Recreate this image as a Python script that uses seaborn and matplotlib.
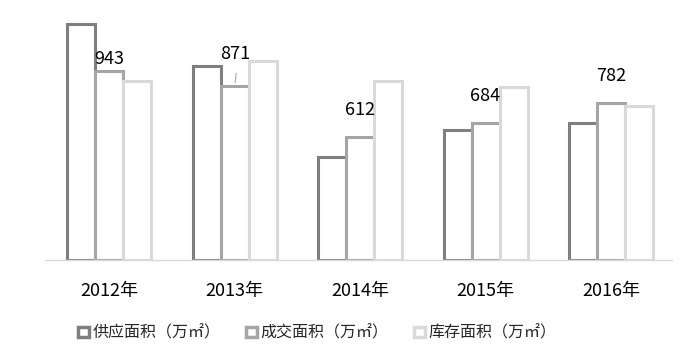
import matplotlib
matplotlib.use('Agg')
import matplotlib.pyplot as plt
from matplotlib.patches import Patch
import numpy as np
import pandas as pd
import seaborn as sns

years = ['2012年', '2013年', '2014年', '2015年', '2016年']
series = ['供应面积（万㎡）', '成交面积（万㎡）', '库存面积（万㎡）']
supply = [1180, 968, 514, 649, 684]
sales = [943, 871, 612, 684, 782]
stock = [893, 993, 893, 864, 769]

colors = ['#7f7f7f', '#a5a5a5', '#d9d9d9']

df = pd.DataFrame({
    'year': years * 3,
    'series': [series[0]] * 5 + [series[1]] * 5 + [series[2]] * 5,
    'value': supply + sales + stock,
})

sns.set_style('white')
plt.rcParams['font.family'] = ['Noto Sans CJK SC', 'DejaVu Sans']

fig = plt.figure(figsize=(6.87, 3.56), dpi=100)
ax = fig.add_axes([45 / 687, 96 / 356, 627 / 687, 250 / 356])

sns.barplot(data=df, x='year', y='value', hue='series', palette=colors,
            width=0.67, fill=False, linewidth=2.2, legend=False, ax=ax,
            errorbar=None)
for p, c in zip(ax.patches, np.repeat(colors, 5)):
    p.set_edgecolor(c)
    p.set_facecolor('white')
    p.set_linewidth(2.2)

ax.set_ylim(0, 1248)
ax.set_xlim(-0.513, 4.487)
ax.set_xlabel('')
ax.set_ylabel('')
ax.set_yticks([])
ax.tick_params(axis='x', length=0, pad=16, labelsize=13, colors='#000000')
for s in ['top', 'left', 'right']:
    ax.spines[s].set_visible(False)
ax.spines['bottom'].set_color('#d9d9d9')
ax.spines['bottom'].set_linewidth(1)

# data labels for the middle series
mid_bars = ax.patches[5:10]
label_offsets = [2, 16, 13, 13, 13]
for bar, v, off in zip(mid_bars, sales, label_offsets):
    cx = bar.get_x() + bar.get_width() / 2
    ax.annotate(str(v), (cx, v), xytext=(0, off), textcoords='offset points',
                ha='center', va='bottom', fontsize=13, color='#000000')
# leader line for 2013
b = mid_bars[1]
cx = b.get_x() + b.get_width() / 2
ax.annotate('', (cx, sales[1]), xytext=(cx + 0.015, sales[1] + 75),
            arrowprops=dict(arrowstyle='-', color='#a5a5a5', lw=0.8))

handles = [Patch(facecolor='white', edgecolor=c, linewidth=2.5, label=s)
           for c, s in zip(colors, series)]
fig.legend(handles=handles, loc='center left', ncol=3, frameon=False,
           bbox_to_anchor=(72 / 687, 23 / 356), fontsize=11.5, handlelength=0.65,
           handleheight=0.65, handletextpad=0.25, columnspacing=1.6,
           borderaxespad=0)

fig.savefig('out.png', dpi=100)
